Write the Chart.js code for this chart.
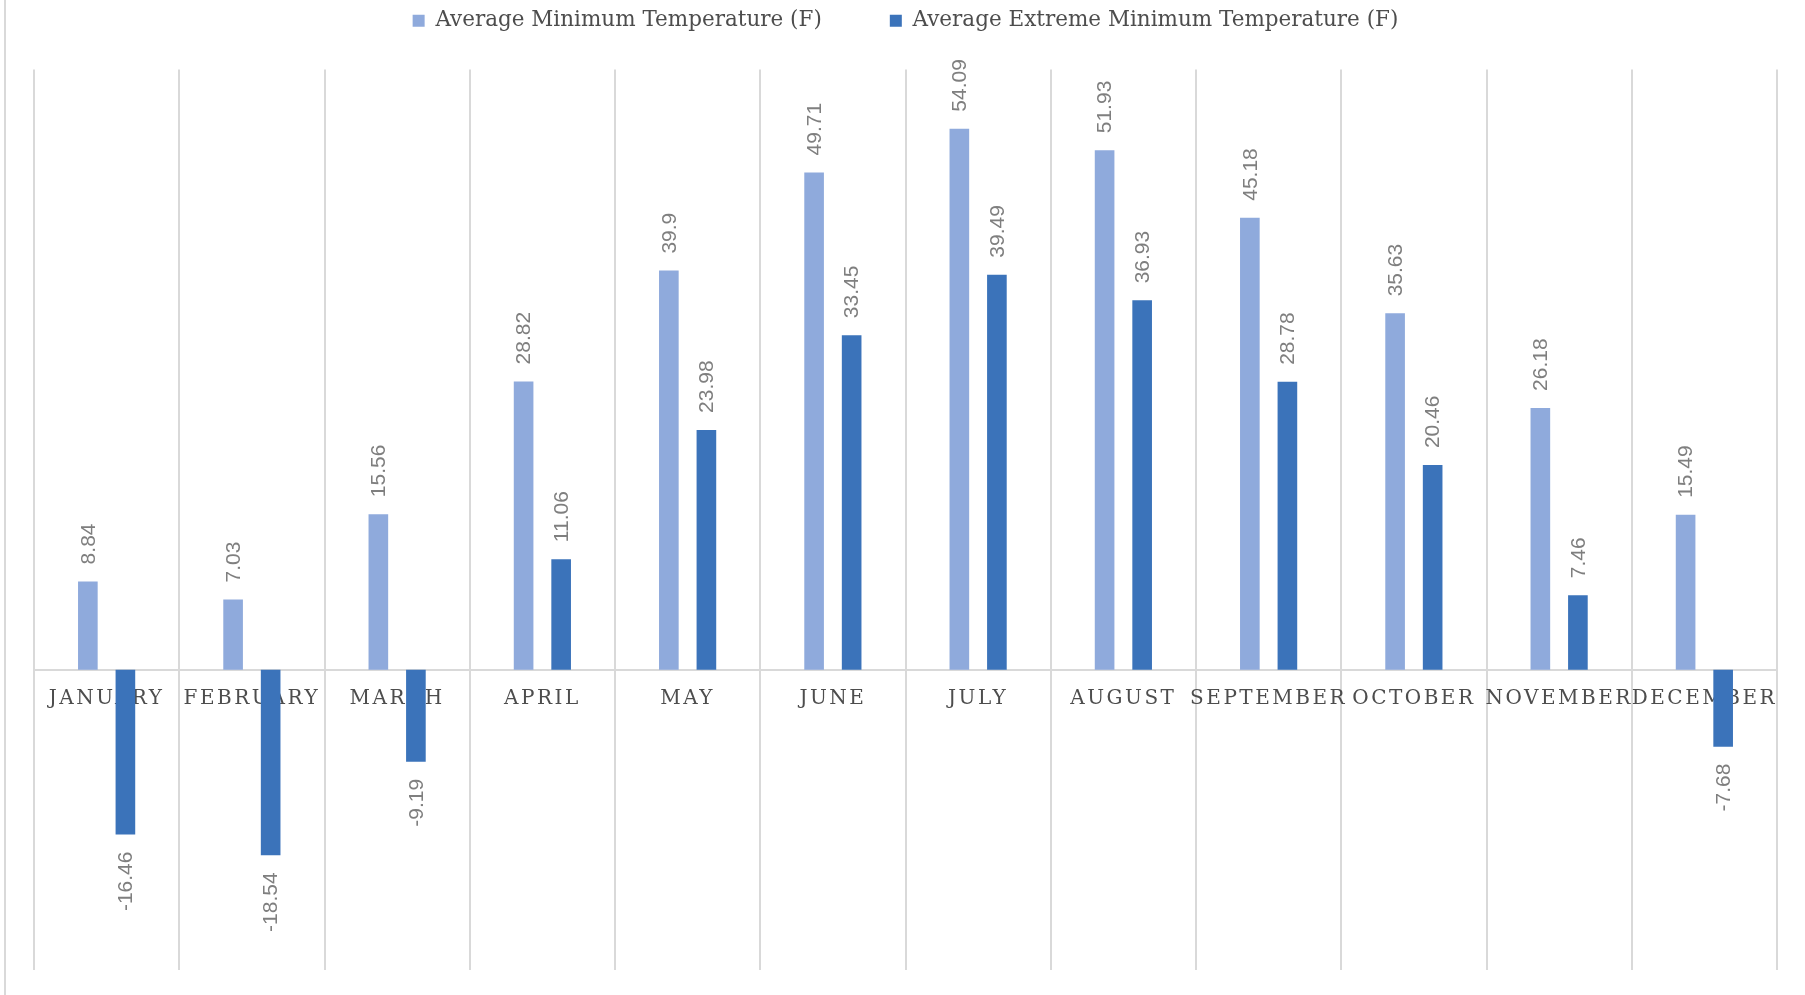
<!DOCTYPE html>
<html>
<head>
<meta charset="utf-8">
<script src="https://cdn.jsdelivr.net/npm/chart.js@4.4.1/dist/chart.umd.min.js"></script>
<style>
  html, body { margin: 0; padding: 0; background: #fff; }
  #wrap { position: relative; width: 1805px; height: 995px; }
  #frame { position: absolute; left: 4px; top: 0; width: 2px; height: 995px; background: #d9d9d9; }
</style>
</head>
<body>
<div id="wrap">
  <div id="frame"></div>
  <canvas id="chart" width="1805" height="995"></canvas>
</div>
<script>
const months = ["JANUARY", "FEBRUARY", "MARCH", "APRIL", "MAY", "JUNE",
  "JULY", "AUGUST", "SEPTEMBER", "OCTOBER", "NOVEMBER", "DECEMBER"];
const avgMinTemp = [8.84, 7.03, 15.56, 28.82, 39.9, 49.71, 54.09, 51.93, 45.18, 35.63, 26.18, 15.49];
const avgExtremeMinTemp = [-16.46, -18.54, -9.19, 11.06, 23.98, 33.45, 39.49, 36.93, 28.78, 20.46, 7.46, -7.68];
const seriesNames = ["Average Minimum Temperature (F)", "Average Extreme Minimum Temperature (F)"];

// rotated value labels, like Excel's "rotate all text 270"
const valueLabels = {
  id: "valueLabels",
  afterDatasetsDraw(chart) {
    const ctx = chart.ctx;
    ctx.save();
    ctx.font = "21px 'Liberation Sans', Arial, sans-serif";
    ctx.fillStyle = "#7f7f7f";
    ctx.textBaseline = "middle";
    chart.data.datasets.forEach((ds, i) => {
      chart.getDatasetMeta(i).data.forEach((bar, j) => {
        const v = ds.data[j];
        ctx.save();
        if (v >= 0) {
          ctx.translate(bar.x, bar.y - 17);
          ctx.rotate(-Math.PI / 2);
          ctx.textAlign = "left";
        } else {
          ctx.translate(bar.x, bar.y + 17);
          ctx.rotate(-Math.PI / 2);
          ctx.textAlign = "right";
        }
        ctx.fillText(String(v), 0, 1);
        ctx.restore();
      });
    });
    ctx.restore();
  }
};

// spaced-out month names
const spacedTicks = {
  id: "spacedTicks",
  beforeDraw(chart) {
    const sx = chart.scales.x;
    if (sx._spaced) return;
    const orig = sx.drawLabels;
    sx.drawLabels = function (area) {
      chart.ctx.save();
      chart.ctx.letterSpacing = "2.5px";
      orig.call(this, area);
      chart.ctx.restore();
    };
    sx._spaced = true;
  }
};

const ctx = document.getElementById("chart").getContext("2d");
new Chart(ctx, {
  type: "bar",
  data: {
    labels: months,
    datasets: [
      {
        label: seriesNames[0],
        data: avgMinTemp,
        backgroundColor: "#8faadc",
        categoryPercentage: 0.517,
        barPercentage: 0.523
      },
      {
        label: seriesNames[1],
        data: avgExtremeMinTemp,
        backgroundColor: "#3b73ba",
        categoryPercentage: 0.517,
        barPercentage: 0.523
      }
    ]
  },
  options: {
    responsive: false,
    animation: false,
    layout: { padding: { top: 0, left: 34, right: 28, bottom: 25 } },
    plugins: {
      legend: {
        position: "top",
        labels: {
          font: { family: "'DejaVu Serif', serif", size: 21.5 },
          color: "#4d4d4d",
          boxWidth: 12,
          boxHeight: 12,
          padding: 10,
          generateLabels(chart) {
            const items = Chart.defaults.plugins.legend.labels.generateLabels(chart);
            // Excel leaves a wide gap between the two entries
            items[0].text = items[0].text + "\u2003\u2003\u2002\u2009";
            return items;
          }
        }
      },
      tooltip: { enabled: false }
    },
    scales: {
      x: {
        position: { y: 0 },
        grid: { display: true, color: "#d9d9d9", lineWidth: 2, drawTicks: false },
        border: { display: true, color: "#d9d9d9", width: 2 },
        ticks: {
          color: "#4d4d4d",
          font: { family: "'DejaVu Serif', serif", size: 20 },
          padding: 17,
          maxRotation: 0,
          autoSkip: false
        }
      },
      top: {
        type: "category",
        labels: months,
        position: "top",
        display: true,
        grid: { display: false, drawTicks: false },
        border: { display: false },
        ticks: { display: false },
        afterFit(scale) { scale.height = 28; }
      },
      y: {
        display: false,
        min: -30,
        max: 60,
        ticks: { stepSize: 10 }
      }
    }
  },
  plugins: [valueLabels, spacedTicks]
});
</script>
</body>
</html>
